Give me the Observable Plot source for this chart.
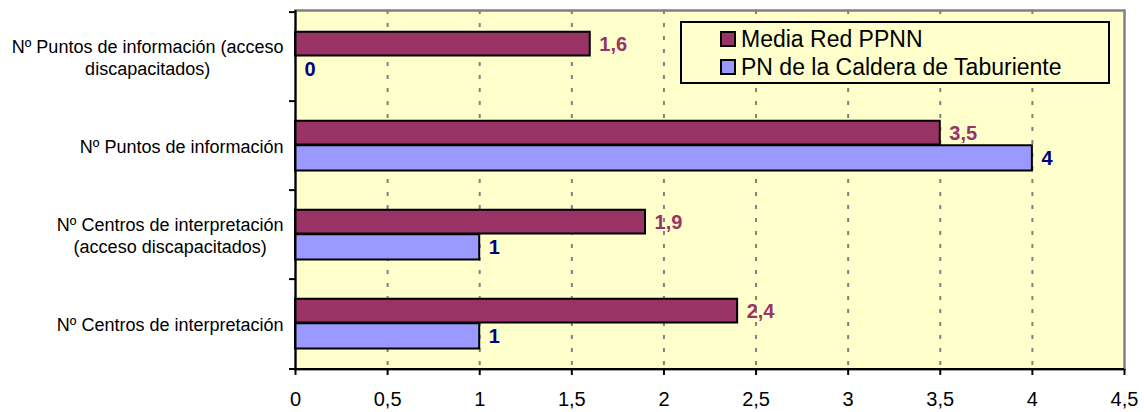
<!DOCTYPE html>
<html>
<head>
<meta charset="utf-8">
<script src="https://cdn.jsdelivr.net/npm/d3@7"></script>
<script src="https://cdn.jsdelivr.net/npm/@observablehq/plot@0.6"></script>
<style>
  html, body { margin: 0; padding: 0; background: #ffffff; }
  #chart { position: relative; width: 1144px; height: 412px; font-family: "Liberation Sans", Arial, sans-serif; }
  #chart svg { display: block; }
  .legend { position: absolute; left: 680px; top: 21px; width: 426px; height: 59px; border: 2px solid #000; background: #FFFFCC; }
  .legend .row { position: absolute; left: 38px; height: 26px; display: flex; align-items: center; font-size: 23px; line-height: 26px; color: #000; white-space: nowrap; }
  .legend .sw { width: 12px; height: 12px; border: 2px solid #000; margin-right: 5px; flex: none; }
</style>
</head>
<body>
<div id="chart"></div>
<script>
// ---- data ----
const categories = [
  "Nº Puntos de información (acceso\ndiscapacitados)",
  "Nº Puntos de información",
  "Nº Centros de interpretación\n(acceso discapacitados)",
  "Nº Centros de interpretación"
];
const seriesNames = ["Media Red PPNN", "PN de la Caldera de Taburiente"];
const mediaRed = [1.6, 3.5, 1.9, 2.4];
const pnCaldera = [0, 4, 1, 1];
const xTicks = [0, 0.5, 1, 1.5, 2, 2.5, 3, 3.5, 4, 4.5];
const seriesColors = ["#993366", "#9999FF"];
const labelColors = ["#993366", "#000080"];

// ---- build ----
const W = 1144, H = 412, mT = 10, mB = 43, mL = 295, mR = 20;
const band = (H - mT - mB) / categories.length;
const font = '"Liberation Sans", Arial, sans-serif';

const media = categories.map((c, i) => ({category: c, value: mediaRed[i]}));
const pn = categories.map((c, i) => ({category: c, value: pnCaldera[i]}));

const fmt = d => String(d).replace(".", ",");

// measure category label widths for centered multi-line labels
const ctx = document.createElement("canvas").getContext("2d");
ctx.font = "18px " + font;
const labelMarks = categories.map(c => {
  const w = Math.max(...c.split("\n").map(s => ctx.measureText(s).width));
  return Plot.text([c], {
    y: d => d, text: d => d, frameAnchor: "left", textAnchor: "middle",
    dx: -(12 + w / 2), fontSize: 18, lineHeight: 1.2, fill: "#000"
  });
});

const plot = Plot.plot({
  width: W, height: H,
  marginTop: mT, marginBottom: mB, marginLeft: mL, marginRight: mR,
  style: {fontFamily: font, background: "#ffffff", overflow: "visible"},
  x: {domain: [0, 4.5], axis: null, label: null},
  y: {type: "band", domain: categories, padding: 0, axis: null, label: null},
  marks: [
    Plot.frame({fill: "#FFFFCC", stroke: "#808080", strokeWidth: 2.5}),
    Plot.ruleX(xTicks.filter(t => t > 0 && t < 4.5), {x: d => d, stroke: "#808080", strokeWidth: 2, strokeDasharray: "4,9"}),
    Plot.barX(media, {x: "value", y: "category", fill: seriesColors[0], stroke: "#000", strokeWidth: 2,
      insetTop: 19.75, insetBottom: band - 19.75 - 24.5}),
    Plot.barX(pn, {x: "value", y: "category", fill: seriesColors[1], stroke: "#000", strokeWidth: 2,
      insetTop: 44.25, insetBottom: 19.5}),
    Plot.text(media, {x: "value", y: "category", text: d => fmt(d.value), dx: 9, dy: -12.9,
      textAnchor: "start", fill: labelColors[0], fontWeight: "bold", fontSize: 20}),
    Plot.text(pn, {x: "value", y: "category", text: d => fmt(d.value), dx: 9, dy: 12.4,
      textAnchor: "start", fill: labelColors[1], fontWeight: "bold", fontSize: 20}),
    // axis lines
    Plot.ruleX([0], {x: d => d, stroke: "#000", strokeWidth: 2}),
    Plot.ruleY([categories[categories.length - 1]], {y: d => d, dy: band / 2, stroke: "#000", strokeWidth: 2, insetLeft: -6}),
    Plot.ruleY(categories, {y: d => d, dy: -band / 2, x1: 0, x2: 0, insetLeft: -6, stroke: "#000", strokeWidth: 2}),
    Plot.axisX(xTicks, {tickSize: 6, tickPadding: 16, tickFormat: fmt, fontSize: 20, stroke: "#000", strokeWidth: 2, fill: "#000", label: null}),
    ...labelMarks
  ]
});

const chart = document.getElementById("chart");
chart.appendChild(plot);

// legend (inside plot area, as in the reference)
const legend = document.createElement("div");
legend.className = "legend";
seriesNames.forEach((name, i) => {
  const row = document.createElement("div");
  row.className = "row";
  row.style.top = (3 + i * 27.5) + "px";
  const sw = document.createElement("span");
  sw.className = "sw";
  sw.style.background = seriesColors[i];
  const tx = document.createElement("span");
  tx.textContent = name;
  row.appendChild(sw);
  row.appendChild(tx);
  legend.appendChild(row);
});
chart.appendChild(legend);
</script>
</body>
</html>
